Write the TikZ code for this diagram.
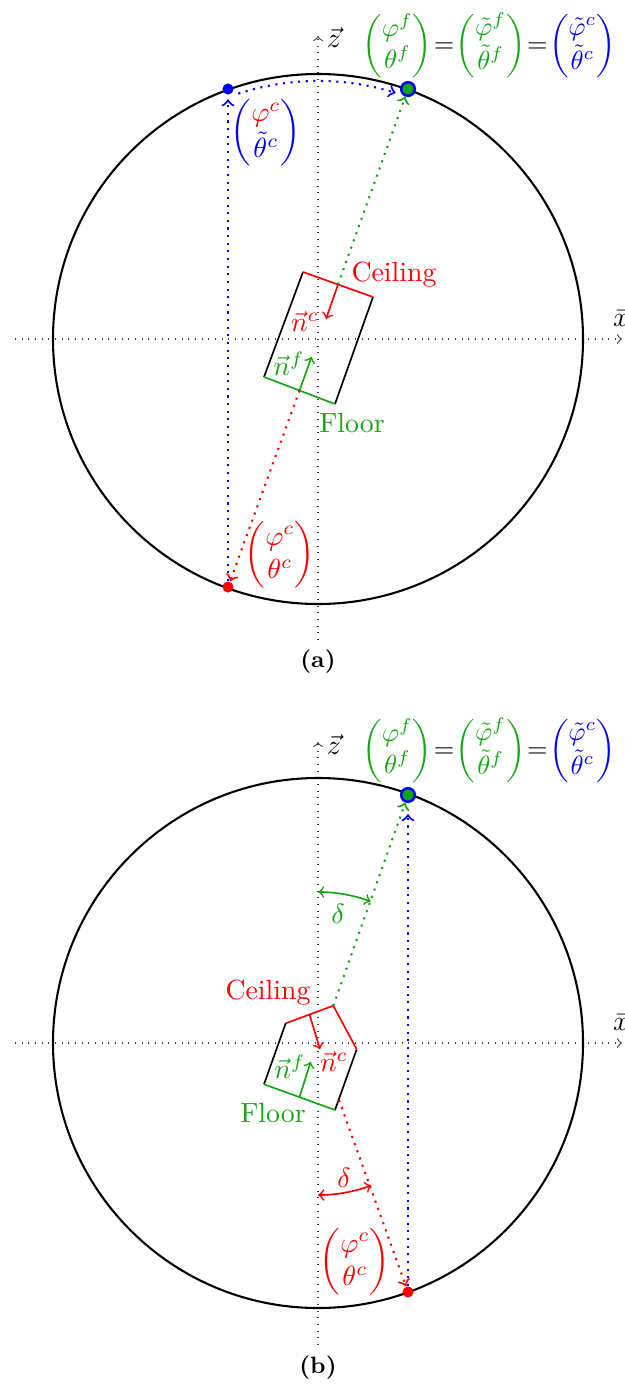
\documentclass[tikz,border=0pt]{standalone}
\usepackage{amsmath}
\usepackage{graphicx}
\usetikzlibrary{calc}
\definecolor{mygreen}{RGB}{20,165,20}
\newcommand{\toprow}{\scalebox{0.95}{$\thickmuskip=1mu
  \textcolor{mygreen}{\begin{pmatrix}\varphi^f\\ \theta^f\end{pmatrix}}=\textcolor{mygreen}{\begin{pmatrix}\tilde{\varphi}^f\\ \tilde{\theta}^f\end{pmatrix}}=\textcolor{blue}{\begin{pmatrix}\tilde{\varphi}^c\\ \tilde{\theta}^c\end{pmatrix}}$}}
\begin{document}
\begin{tikzpicture}[x=0.36pt,y=-0.36pt,
  axis/.style={dotted, black!75, thin, ->},
  circ/.style={line width=0.75pt},
  cline/.style={dotted, line width=0.75pt, ->},
  edge/.style={line width=0.6pt},
  normal/.style={line width=0.6pt, ->},
  dotnode/.style={circle, inner sep=0pt, minimum size=4pt},
  gdot/.style={circle, inner sep=0pt, minimum size=4.9pt, fill=mygreen, draw=blue, line width=0.9pt},
  anglearc/.style={line width=0.6pt, <->},
  eqnode/.style={inner sep=0pt, anchor=west},
  captext/.style={font=\fontsize{8.5}{10}\selectfont\bfseries}]
\useasboundingbox (0,0) rectangle (625,1384);

% ================= panel (a) =================
\coordinate (Ca) at (318,339);
\coordinate (xA0) at (15,339);
\coordinate (xA1) at (622,339);
\coordinate (zA0) at (318,640);
\coordinate (zA1) at (318,36);
\draw[axis] (xA0) -- (xA1);
\draw[axis] (zA0) -- (zA1);
\node (xlabA) at (621,319) {$\bar{x}$};
\node (zlabA) at (334,38) {$\vec{z}$};
\draw[circ] (Ca) circle[radius=265];

\coordinate (A1) at (303,272);
\coordinate (A2) at (373,297);
\coordinate (A3) at (335,404);
\coordinate (A4) at (264,377);
\draw[edge] (A2) -- (A3);
\draw[edge] (A4) -- (A1);
\draw[edge, red] (A1) -- (A2);
\draw[edge, mygreen] (A3) -- (A4);
\coordinate (mcA) at ($(A1)!0.5!(A2)$);
\coordinate (mfA) at ($(A3)!0.5!(A4)$);
\coordinate (ncA) at (326,319);
\coordinate (nfA) at (311.7,356.7);

\node[dotnode, fill=blue] (bA) at (228,89) {};
\node[gdot] (gA) at (408,89) {};
\node[dotnode, fill=red] (rA) at (228,587) {};

\draw[normal, red] (mcA) -- (ncA);
\draw[normal, mygreen] (mfA) -- (nfA);
\draw[cline, mygreen] (mcA) -- (gA);
\draw[cline, red] (mfA) -- (rA);
\draw[cline, blue, shorten >=1.5pt] (rA) -- (bA);
\draw[cline, blue] ([shift={(-108:258)}]Ca) arc[start angle=-108, end angle=-72.5, radius=258];

\node[red] (ceilA) at (394,275) {Ceiling};
\node[mygreen] (floorA) at (352,423) {Floor};
\node[red] (nclabA) at (305,322) {$\vec{n}^c$};
\node[mygreen] (nflabA) at (289,364) {$\vec{n}^f$};
\node[blue] (labBA) at (266,133) {$\begin{pmatrix}{\color{red}\varphi^c}\\ \tilde{\theta}^c\end{pmatrix}$};
\node[red] (labRA) at (280,555) {$\begin{pmatrix}\varphi^c\\ \theta^c\end{pmatrix}$};
\node[eqnode] (eqA) at (362,46) {\toprow};
\node[captext] (capA) at (318,662) {(a)};

% ================= panel (b) =================
\coordinate (Cb) at (318,1043);
\coordinate (xB0) at (15,1043);
\coordinate (xB1) at (622,1043);
\coordinate (zB0) at (318,1345);
\coordinate (zB1) at (318,742);
\draw[axis] (xB0) -- (xB1);
\draw[axis] (zB0) -- (zB1);
\node (xlabB) at (621,1023) {$\bar{x}$};
\node (zlabB) at (334,745) {$\vec{z}$};
\draw[circ] (Cb) circle[radius=265];

\coordinate (B1) at (285.7,1023.3);
\coordinate (B2) at (333.3,1005.7);
\coordinate (B3) at (356.7,1049.3);
\coordinate (B4) at (335,1110);
\coordinate (B5) at (264,1084.3);
\draw[edge] (B3) -- (B4);
\draw[edge] (B5) -- (B1);
\draw[edge, red] (B1) -- (B2) -- (B3);
\draw[edge, mygreen] (B4) -- (B5);
\coordinate (mcB) at ($(B1)!0.5!(B2)$);
\coordinate (mfB) at ($(B4)!0.5!(B5)$);
\coordinate (ncB) at (320,1049.3);
\coordinate (nfB) at (310.7,1061.7);
\coordinate (rsB) at (339,1100);

\node[gdot] (gB) at (408,795) {};
\node[dotnode, fill=red] (rB) at (408,1292) {};

\draw[normal, red] (mcB) -- (ncB);
\draw[normal, mygreen] (mfB) -- (nfB);
\draw[cline, mygreen] (B2) -- (gB);
\draw[cline, red] (rsB) -- (rB);
\draw[cline, blue, shorten >=4pt] (rB) -- (gB);
\draw[anglearc, mygreen] ([shift={(-90:151)}]Cb) arc[start angle=-90, end angle=-69.6, radius=151];
\draw[anglearc, red] ([shift={(90:152)}]Cb) arc[start angle=90, end angle=69.5, radius=152];

\node[mygreen] (dgB) at (338,914) {$\delta$};
\node[red] (drB) at (344,1178) {$\delta$};
\node[red] (ceilB) at (268,993) {Ceiling};
\node[mygreen] (floorB) at (273,1113) {Floor};
\node[red] (nclabB) at (334,1062) {$\vec{n}^c$};
\node[mygreen] (nflabB) at (290,1067) {$\vec{n}^f$};
\node[red] (labRB) at (355,1262) {$\begin{pmatrix}\varphi^c\\ \theta^c\end{pmatrix}$};
\node[eqnode] (eqB) at (362,751) {\toprow};
\node[captext] (capB) at (318,1368) {(b)};
\end{tikzpicture}
\end{document}
